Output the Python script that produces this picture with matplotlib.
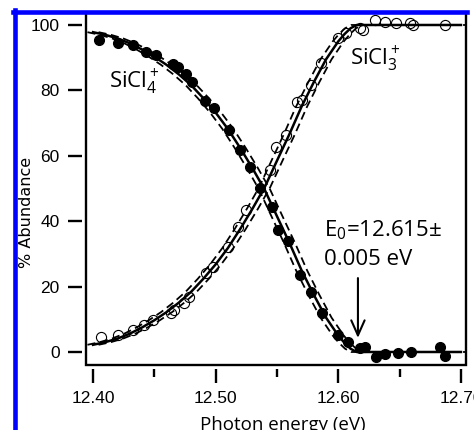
import matplotlib
matplotlib.use('Agg')
import matplotlib.pyplot as plt
from matplotlib.lines import Line2D
import numpy as np

plt.rcParams['font.family'] = ['Liberation Sans', 'DejaVu Sans']
plt.rcParams['font.size'] = 12
plt.rcParams['mathtext.fontset'] = 'custom'
plt.rcParams['mathtext.rm'] = 'Open Sans'
plt.rcParams['mathtext.it'] = 'Open Sans:italic'

# measured points (photon energy in eV, % abundance)
sicl4_x = [12.405, 12.420, 12.433, 12.443, 12.451, 12.465, 12.469, 12.476, 12.481,
           12.491, 12.499, 12.511, 12.520, 12.528, 12.536, 12.546, 12.551, 12.559,
           12.569, 12.578, 12.587, 12.600, 12.608, 12.618, 12.622, 12.631, 12.638,
           12.649, 12.659, 12.683, 12.687]
sicl4_y = [95.4, 94.5, 93.9, 91.7, 90.8, 88.0, 87.0, 85.0, 82.6,
           76.8, 74.6, 67.9, 61.8, 56.6, 50.2, 44.3, 37.3, 33.9,
           23.5, 18.3, 11.9, 5.2, 3.1, 1.2, 1.5, -1.5, -0.6,
           -0.3, 0.0, 1.5, -1.2]

sicl3_x = [12.4065, 12.420, 12.4325, 12.4415, 12.449, 12.4634, 12.466, 12.474,
           12.478, 12.492, 12.4976, 12.510, 12.518, 12.525, 12.5447, 12.5496,
           12.5577, 12.5667, 12.570, 12.578, 12.586, 12.600, 12.6065, 12.618,
           12.620, 12.630, 12.638, 12.647, 12.6585, 12.661, 12.687]
sicl3_y = [4.6, 5.2, 6.7, 8.3, 9.8, 11.9, 12.8, 15.0,
           16.8, 24.2, 26.0, 32.1, 38.2, 43.4, 55.7, 62.7,
           66.4, 76.5, 77.1, 81.7, 88.4, 96.0, 97.6, 99.1,
           98.5, 101.5, 100.9, 100.6, 100.6, 100.0, 100.0]

# fitted breakdown curves
fit_x = [12.40, 12.41, 12.42, 12.43, 12.44, 12.45, 12.46, 12.47, 12.48, 12.49,
         12.50, 12.51, 12.52, 12.53, 12.54, 12.55, 12.56, 12.57, 12.58, 12.59,
         12.60, 12.605, 12.61, 12.615, 12.70]
fit_sicl4 = [97.8, 97.0, 95.9, 94.4, 92.5, 90.3, 87.8, 84.9, 81.6, 77.6,
             73.2, 68.2, 62.4, 56.2, 49.6, 41.5, 33.5, 25.0, 17.5, 10.5,
             5.0, 2.8, 1.0, 0.0, 0.0]
fit_sicl3 = [2.2, 3.0, 4.1, 5.6, 7.5, 9.7, 12.2, 15.1, 18.4, 22.4,
             26.8, 31.8, 37.6, 43.8, 50.4, 58.5, 66.5, 75.0, 82.5, 89.5,
             95.0, 97.2, 99.0, 100.0, 100.0]
e0_err = 0.0045

x_ticks = [12.40, 12.50, 12.60, 12.70]
x_minor = [12.45, 12.55, 12.65]
y_ticks = [0, 20, 40, 60, 80, 100]

fig = plt.figure(figsize=(4.74, 4.30), dpi=100)
ax = fig.add_axes([86 / 474, 65 / 430, 380 / 474, 351 / 430])

ax.plot(sicl4_x, sicl4_y, 'o', color='black', ms=7, zorder=2)
ax.plot(sicl3_x, sicl3_y, 'o', mfc='none', mec='black', mew=0.8, ms=7.3, zorder=2)

fx = np.array(fit_x)
for ys in (fit_sicl4, fit_sicl3):
    ax.plot(fx, ys, color='black', lw=1.8, zorder=3)
    for dx in (-e0_err, e0_err):
        ax.plot(fx + dx, ys, color='black', lw=1.3, dashes=[4.5, 2.5], zorder=3)

ax.set_xlim(12.3943, 12.7041)
ax.set_ylim(-3.98, 103.36)

# Igor-like detached axes with a separate frame
for side in ('left', 'bottom'):
    ax.spines[side].set_position(('outward', 3))
for s in ax.spines.values():
    s.set_visible(False)
frame = dict(color='black', lw=1.7, transform=ax.transAxes, clip_on=False, zorder=5)
ax.plot([0, 0, 1, 1], [1, 0, 0, 1], solid_joinstyle='miter', **frame)

ax.set_xticks(x_ticks)
ax.set_xticklabels(['%.2f' % v for v in x_ticks])
ax.set_xticks(x_minor, minor=True)
ax.set_yticks(y_ticks)
ax.tick_params(axis='both', which='major', direction='out', length=10, width=1.7,
               labelsize=12.5)
ax.tick_params(axis='x', which='major', pad=6)
ax.tick_params(axis='y', which='major', pad=6)
ax.tick_params(axis='x', which='minor', direction='out', length=5.5, width=1.7)

ax.set_ylabel('% Abundance', fontsize=11.5, family='DejaVu Sans')
ax.yaxis.set_label_coords(-0.136, 0.436)
ax.set_xlabel('Photon energy (eV)', fontsize=13.5, family='Open Sans', va='top')
ax.xaxis.set_label_coords(0.518, -0.145)

lab = dict(fontsize=16, family='Open Sans', ha='left', va='baseline')
ax.text(12.413, 80.7, r'SiCl$_4^+$', **lab)
ax.text(12.6098, 87.8, r'SiCl$_3^+$', **lab)
ax.text(12.5886, 35.2, r'E$_0$=12.615±', **lab)
ax.text(12.5886, 26.6, '0.005 eV', **lab)

ax.annotate('', xy=(12.616, 4.3), xytext=(12.616, 22.6),
            arrowprops=dict(arrowstyle='->,head_length=0.9,head_width=0.4',
                            lw=1.5, color='black', shrinkA=0, shrinkB=0))

# blue border along the left and top of the figure
fig.add_artist(Line2D([15 / 474, 15 / 474], [0, 420 / 430], color='#0000FF', lw=3.3))
fig.add_artist(Line2D([13 / 474, 467 / 474], [418 / 430, 418 / 430], color='#0000FF', lw=3.3))

fig.savefig('out.png', dpi=100)
